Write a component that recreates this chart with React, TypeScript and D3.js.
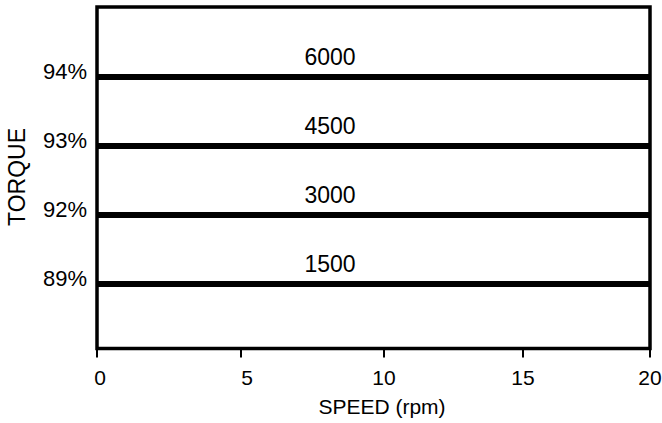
import React from "react";
import * as d3 from "d3";

const torqueLabels = ["89%", "92%", "93%", "94%"];
const speedLabels = ["1500", "3000", "4500", "6000"];
const xDomain = [0, 20];
const xTicks = [0, 5, 10, 15, 20];

const W = 662;
const H = 423;
const FONT = "'Liberation Sans', Arial, Helvetica, sans-serif";

export default function App() {
  const left = 97;
  const right = 650;
  const top = 7;
  const bottom = 348.5;

  // the scanned original is slightly unevenly stretched; the range follows its tick marks
  const x = d3.scaleLinear().domain(xTicks).range([left, 241, 384, 523, right]);
  const y = d3.scalePoint<string>().domain(torqueLabels).range([284, 77]);

  const series = torqueLabels.map((t, i) => ({ torque: t, speed: speedLabels[i] }));
  const lineGen = d3
    .line<number>()
    .x((d) => x(d))
    .y(() => 0);

  return (
    <svg
      width={W}
      height={H}
      style={{ position: "absolute", left: 0, top: 0, background: "#fff" }}
      fontFamily={FONT}
    >
      {series.map((s) => (
        <g key={s.torque} transform={`translate(0,${y(s.torque)})`}>
          <path d={lineGen(xDomain) || ""} stroke="#000" strokeWidth={6} fill="none" />
          <text x={330} y={-12} fontSize={23} textAnchor="middle" fill="#000">
            {s.speed}
          </text>
          <text x={87} y={1.5} fontSize={22} textAnchor="end" fill="#000">
            {s.torque}
          </text>
        </g>
      ))}
      <rect
        x={left}
        y={top}
        width={right - left}
        height={bottom - top}
        fill="none"
        stroke="#000"
        strokeWidth={3.5}
      />
      {xTicks.map((t) => (
        <g key={t} transform={`translate(${x(t)},${bottom})`}>
          <line y1={0} y2={9} stroke="#000" strokeWidth={2} />
          <text x={t === 0 ? 3 : t === 5 ? 6 : 0} y={36.5} fontSize={21} textAnchor="middle" fill="#000">
            {t}
          </text>
        </g>
      ))}
      <text x={382} y={414} fontSize={21} textAnchor="middle" fill="#000">
        SPEED (rpm)
      </text>
      <text
        transform={`translate(25,177) rotate(-90)`}
        fontSize={23}
        textAnchor="middle"
        fill="#000"
      >
        TORQUE
      </text>
    </svg>
  );
}
